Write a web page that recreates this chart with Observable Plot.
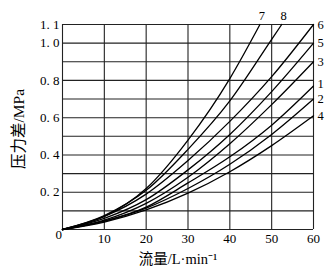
<!DOCTYPE html>
<html><head><meta charset="utf-8">
<script src="https://cdn.jsdelivr.net/npm/d3@7"></script>
<script src="https://cdn.jsdelivr.net/npm/@observablehq/plot@0.6"></script>
<style>body{margin:0;background:#fff} svg{display:block}</style>
</head><body><div id="chart"></div>
<script>
// Flow (L/min) sample points and pressure drop (MPa) per curve
const flow = [0, 10, 20, 30, 40, 50, 60];
const flow7 = [0, 10, 20, 30, 40, 47.2];
const flow8 = [0, 10, 20, 30, 40, 50, 52.4];
const dp1 = [0, 0.045, 0.12, 0.25, 0.39, 0.56, 0.77];
const dp2 = [0, 0.045, 0.115, 0.22, 0.35, 0.51, 0.70];
const dp3 = [0, 0.05, 0.14, 0.28, 0.46, 0.67, 0.90];
const dp4 = [0, 0.04, 0.105, 0.195, 0.31, 0.45, 0.61];
const dp5 = [0, 0.06, 0.16, 0.32, 0.51, 0.74, 1.00];
const dp6 = [0, 0.07, 0.19, 0.37, 0.58, 0.82, 1.10];
const dp7 = [0, 0.07, 0.22, 0.48, 0.81, 1.10];
const dp8 = [0, 0.075, 0.21, 0.43, 0.69, 1.02, 1.10];

const xTicks = [10, 20, 30, 40, 50, 60];
const yTicks = [0.2, 0.4, 0.6, 0.8, 1.0, 1.1];
const xGrid = [0, 10, 20, 30, 40, 50, 60];
const yGrid = [0, 0.1, 0.2, 0.3, 0.4, 0.5, 0.6, 0.7, 0.8, 0.9, 1.0, 1.1];
const xTitle = "流量/L·min⁻¹";
const yTitle = "压力差/MPa";
const originLabel = "0";

const series = [
  {name: "1", x: flow, y: dp1, side: true},
  {name: "2", x: flow, y: dp2, side: true},
  {name: "3", x: flow, y: dp3, side: true},
  {name: "4", x: flow, y: dp4, side: true},
  {name: "5", x: flow, y: dp5, side: true},
  {name: "6", x: flow, y: dp6, side: true},
  {name: "7", x: flow7, y: dp7, side: false},
  {name: "8", x: flow8, y: dp8, side: false}
];
const rows = series.flatMap(s => s.x.map((q, i) => ({name: s.name, q, p: s.y[i]})));
const ends = series.map(s => ({name: s.name, q: s.x[s.x.length - 1], p: s.y[s.y.length - 1], side: s.side}));

const serif = "'Liberation Serif', 'DejaVu Serif', serif";
const mixed = "'Liberation Serif', 'Noto Sans CJK SC', serif";
const chart = Plot.plot({
  width: 335, height: 278,
  marginLeft: 62, marginRight: 22, marginTop: 24, marginBottom: 49,
  style: {fontFamily: serif, fontSize: "13px", background: "#fff", color: "#000"},
  x: {domain: [0, 60]},
  y: {domain: [0, 1.1]},
  marks: [
    Plot.ruleX(xGrid, {stroke: "#222", strokeWidth: 1.1}),
    Plot.ruleY(yGrid, {stroke: "#222", strokeWidth: 1.1}),
    Plot.axisX(xTicks, {tickSize: 0, tickPadding: 4, label: null, fontSize: 13, fontFamily: serif}),
    Plot.axisY(yTicks, {tickSize: 0, tickPadding: 3, label: null, fontSize: 13, fontFamily: serif,
      tickFormat: d => d.toFixed(1).replace(".", ". ")}),
    Plot.text([originLabel], {frameAnchor: "bottom-left", dx: -7, dy: 9, fontSize: 13, fontFamily: serif}),
    Plot.line(rows, {x: "q", y: "p", z: "name", stroke: "#000", strokeWidth: 1.3, curve: "monotone-x"}),
    Plot.text(ends.filter(d => d.side && d.name !== "1"), {x: "q", y: "p", text: "name", textAnchor: "start", dx: 4, dy: 0, fontSize: 12.5, fontFamily: serif}),
    Plot.text(ends.filter(d => d.name === "1"), {x: "q", y: "p", text: "name", textAnchor: "start", dx: 4, dy: -2, fontSize: 12.5, fontFamily: serif}),
    Plot.text(ends.filter(d => !d.side), {x: "q", y: "p", text: "name", dx: 2, dy: -9, fontSize: 12.5, fontFamily: serif}),
    Plot.text([xTitle], {frameAnchor: "bottom", dx: -10, dy: 34, fontSize: 14.5, fontFamily: mixed})
  ]
});
d3.select(chart).append("text")
  .attr("transform", "translate(18,129) rotate(-90)")
  .attr("text-anchor", "middle")
  .attr("dominant-baseline", "central")
  .attr("font-family", mixed)
  .attr("font-size", 15.5)
  .attr("fill", "#000")
  .text(yTitle);
document.getElementById("chart").appendChild(chart);
</script>
</body></html>
